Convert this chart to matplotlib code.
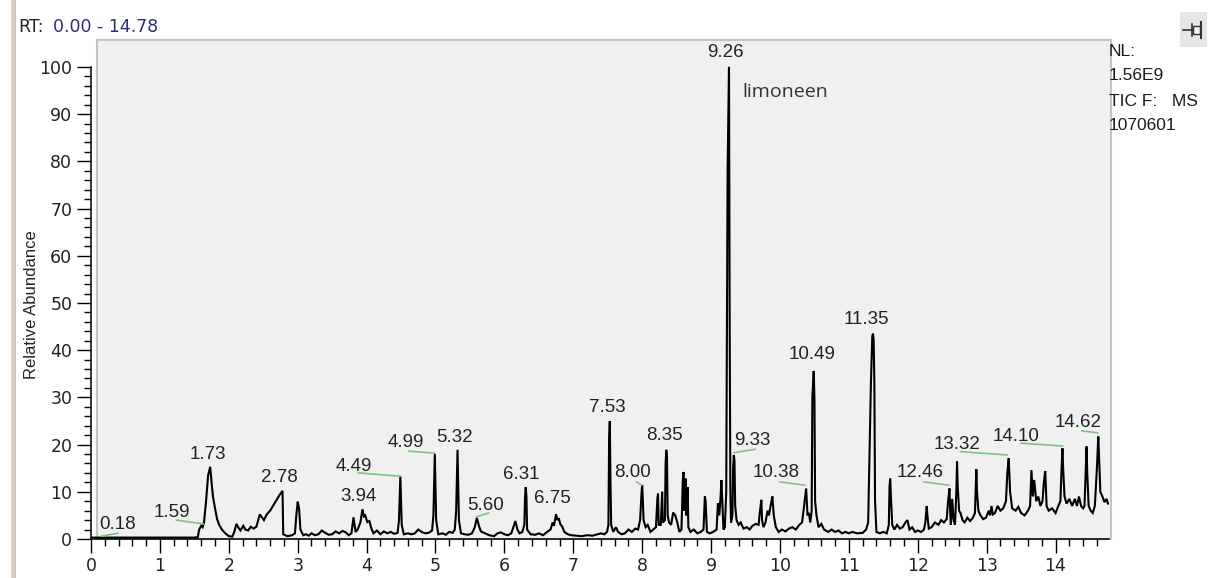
import matplotlib
matplotlib.use("Agg")
import matplotlib.pyplot as plt
from matplotlib.patches import Rectangle
from matplotlib.lines import Line2D
from matplotlib.ticker import MultipleLocator, FixedLocator

# ---- chromatogram trace: retention time (min) and relative abundance (%) ----
rt = [
    0.00, 0.50, 1.00, 1.50, 1.55, 1.57, 1.60, 1.62, 1.64, 1.67, 1.70, 1.73, 1.75, 1.77, 1.80,
    1.83, 1.86, 1.90, 1.95, 2.00, 2.05, 2.08, 2.11, 2.14, 2.17, 2.21, 2.24, 2.28, 2.32, 2.36,
    2.40, 2.45, 2.48, 2.51, 2.55, 2.60, 2.65, 2.70, 2.74, 2.78, 2.79, 2.85, 2.92, 2.96, 2.98,
    3.00, 3.02, 3.04, 3.08, 3.12, 3.16, 3.20, 3.25, 3.30, 3.35, 3.40, 3.45, 3.50, 3.55, 3.60,
    3.65, 3.70, 3.74, 3.78, 3.81, 3.84, 3.87, 3.91, 3.94, 3.96, 3.98, 4.01, 4.04, 4.07, 4.10,
    4.15, 4.20, 4.25, 4.30, 4.35, 4.40, 4.45, 4.47, 4.49, 4.51, 4.54, 4.60, 4.65, 4.70, 4.75,
    4.80, 4.85, 4.90, 4.95, 4.97, 4.99, 5.01, 5.04, 5.10, 5.15, 5.20, 5.25, 5.28, 5.30, 5.32,
    5.34, 5.37, 5.42, 5.48, 5.53, 5.57, 5.60, 5.63, 5.66, 5.72, 5.78, 5.85, 5.90, 5.95, 6.00,
    6.05, 6.10, 6.13, 6.16, 6.19, 6.22, 6.26, 6.29, 6.30, 6.31, 6.32, 6.33, 6.38, 6.45, 6.50,
    6.56, 6.62, 6.67, 6.70, 6.72, 6.74, 6.75, 6.77, 6.79, 6.81, 6.84, 6.87, 6.92, 6.97, 7.05,
    7.12, 7.20, 7.28, 7.35, 7.40, 7.45, 7.49, 7.51, 7.52, 7.53, 7.54, 7.55, 7.58, 7.62, 7.65,
    7.70, 7.75, 7.80, 7.85, 7.90, 7.94, 7.97, 7.99, 8.00, 8.01, 8.02, 8.05, 8.08, 8.12, 8.16,
    8.20, 8.22, 8.23, 8.24, 8.27, 8.29, 8.30, 8.33, 8.34, 8.35, 8.36, 8.37, 8.39, 8.42, 8.45,
    8.48, 8.51, 8.54, 8.57, 8.59, 8.60, 8.61, 8.63, 8.64, 8.66, 8.67, 8.70, 8.75, 8.80, 8.85,
    8.89, 8.91, 8.92, 8.94, 8.98, 9.03, 9.08, 9.10, 9.12, 9.14, 9.15, 9.16, 9.18, 9.20, 9.22,
    9.24, 9.26, 9.27, 9.28, 9.29, 9.31, 9.32, 9.33, 9.34, 9.35, 9.37, 9.40, 9.43, 9.47, 9.52,
    9.56, 9.60, 9.65, 9.69, 9.71, 9.73, 9.74, 9.76, 9.79, 9.82, 9.84, 9.87, 9.89, 9.91, 9.94,
    9.98, 10.03, 10.08, 10.13, 10.18, 10.23, 10.28, 10.32, 10.35, 10.38, 10.40, 10.42, 10.44, 10.46, 10.47,
    10.49, 10.50, 10.51, 10.53, 10.56, 10.60, 10.64, 10.70, 10.75, 10.80, 10.85, 10.90, 10.95, 11.00, 11.05,
    11.12, 11.20, 11.25, 11.28, 11.31, 11.32, 11.34, 11.35, 11.36, 11.37, 11.38, 11.40, 11.45, 11.50, 11.55,
    11.58, 11.59, 11.60, 11.61, 11.63, 11.66, 11.70, 11.74, 11.78, 11.82, 11.85, 11.88, 11.92, 11.96, 12.00,
    12.05, 12.09, 12.11, 12.13, 12.14, 12.16, 12.20, 12.25, 12.30, 12.34, 12.38, 12.42, 12.44, 12.46, 12.47,
    12.48, 12.50, 12.52, 12.54, 12.56, 12.57, 12.58, 12.60, 12.62, 12.65, 12.68, 12.72, 12.76, 12.80, 12.83,
    12.85, 12.86, 12.88, 12.91, 12.95, 12.99, 13.03, 13.05, 13.07, 13.09, 13.12, 13.16, 13.20, 13.24, 13.28,
    13.30, 13.32, 13.34, 13.37, 13.42, 13.46, 13.50, 13.55, 13.60, 13.63, 13.65, 13.67, 13.69, 13.72, 13.75,
    13.78, 13.81, 13.83, 13.85, 13.87, 13.90, 13.95, 14.00, 14.04, 14.07, 14.09, 14.10, 14.11, 14.13, 14.16,
    14.20, 14.24, 14.28, 14.31, 14.34, 14.37, 14.40, 14.42, 14.44, 14.45, 14.46, 14.48, 14.51, 14.54, 14.57,
    14.60, 14.62, 14.63, 14.65, 14.68, 14.71, 14.74, 14.76, 14.78,
]
abundance = [
    0.3, 0.3, 0.3, 0.3, 0.4, 2.0, 2.8, 2.5, 3.5, 8.0, 13.5, 15.3, 12.0, 9.0, 6.5,
    4.2, 3.0, 2.0, 1.2, 0.6, 0.5, 1.5, 3.2, 2.4, 1.8, 2.8, 2.0, 1.8, 2.6, 2.2,
    2.6, 5.2, 4.6, 4.0, 5.2, 6.0, 7.2, 8.4, 9.4, 10.2, 1.0, 0.6, 0.8, 1.2, 5.0,
    7.9, 6.5, 2.0, 0.8, 1.0, 0.7, 1.2, 0.8, 1.0, 1.8, 1.3, 0.9, 1.0, 1.6, 1.2,
    1.7, 1.4, 0.8, 1.2, 4.6, 1.5, 2.0, 3.5, 6.3, 4.8, 5.0, 3.6, 3.8, 2.2, 1.2,
    1.8, 1.0, 1.6, 1.2, 1.5, 1.1, 1.3, 4.0, 13.3, 3.0, 1.0, 1.2, 1.0, 1.2, 2.0,
    1.5, 1.2, 1.3, 1.8, 5.0, 18.0, 4.0, 1.0, 1.2, 0.9, 1.5, 1.3, 2.0, 6.0, 18.9,
    4.0, 1.2, 1.0, 0.9, 1.2, 2.5, 4.5, 2.8, 1.6, 1.2, 0.8, 0.6, 1.2, 1.4, 1.0,
    0.8, 1.2, 2.5, 3.8, 2.0, 1.2, 1.5, 3.0, 9.0, 11.0, 9.0, 2.0, 1.0, 0.9, 1.2,
    0.8, 1.5, 2.0, 3.5, 2.8, 4.5, 5.2, 4.0, 4.4, 3.2, 2.6, 1.5, 1.0, 0.8, 0.7,
    0.6, 0.8, 0.7, 1.0, 1.2, 1.0, 1.5, 3.0, 21.0, 25.0, 12.0, 3.0, 1.5, 2.5, 1.5,
    1.0, 1.2, 2.0, 1.5, 2.2, 2.0, 4.0, 9.5, 11.4, 8.0, 4.0, 2.5, 3.0, 1.5, 2.0,
    2.5, 8.5, 9.6, 3.0, 3.0, 10.0, 3.5, 4.0, 16.0, 18.9, 17.5, 5.0, 3.5, 3.0, 5.6,
    5.0, 3.5, 1.5, 2.0, 12.5, 14.2, 6.0, 12.8, 5.0, 11.0, 2.5, 1.5, 2.0, 1.2, 1.5,
    2.0, 9.0, 8.0, 1.5, 1.2, 1.5, 2.0, 7.6, 5.0, 9.5, 12.5, 9.0, 2.0, 2.5, 10.0,
    78.0, 100.0, 46.0, 10.0, 3.5, 5.0, 15.0, 17.8, 16.5, 7.0, 4.0, 3.0, 3.5, 2.2, 2.5,
    2.0, 2.8, 3.2, 3.0, 6.0, 8.3, 4.0, 2.5, 3.5, 6.0, 5.0, 7.5, 9.0, 5.0, 2.5,
    1.5, 2.0, 1.6, 2.2, 2.5, 2.0, 3.0, 3.5, 7.0, 10.7, 5.0, 5.5, 3.5, 6.0, 30.0,
    35.6, 30.0, 8.0, 5.0, 2.5, 3.2, 2.0, 1.5, 2.0, 1.5, 1.8, 1.2, 1.5, 1.2, 1.5,
    1.2, 1.3, 2.0, 3.5, 25.0, 33.0, 43.0, 43.5, 42.0, 33.0, 8.0, 1.5, 1.2, 1.5, 1.2,
    3.0, 11.0, 12.8, 9.0, 3.0, 2.0, 3.0, 2.2, 2.5, 3.5, 4.0, 2.0, 2.5, 1.5, 1.8,
    1.5, 2.0, 3.5, 7.0, 5.0, 2.2, 2.5, 3.5, 3.0, 4.0, 3.5, 4.2, 8.0, 10.7, 6.0,
    3.0, 8.5, 4.0, 3.0, 10.0, 16.4, 11.0, 6.0, 5.5, 4.0, 3.5, 4.5, 3.8, 4.5, 5.5,
    14.8, 10.0, 6.0, 5.0, 4.2, 4.5, 6.0, 5.0, 7.0, 5.2, 5.5, 7.0, 6.0, 6.5, 8.0,
    14.0, 17.1, 10.0, 6.5, 6.0, 6.8, 5.5, 5.0, 6.0, 7.0, 14.6, 9.0, 12.5, 8.0, 9.0,
    7.0, 8.0, 12.0, 14.4, 7.0, 6.0, 6.5, 5.5, 7.0, 8.0, 16.0, 19.2, 15.0, 9.0, 7.5,
    8.5, 7.0, 8.5, 7.0, 9.0, 7.0, 6.5, 7.0, 15.0, 19.6, 14.0, 7.0, 6.0, 5.5, 7.0,
    15.0, 21.7, 18.0, 10.0, 9.0, 7.8, 8.5, 7.5, 7.5,
]

# ---- peak annotations: label text, label centre (rt, abundance) ----
peak_labels = ["0.18", "1.59", "1.73", "2.78", "3.94", "4.49", "4.99", "5.32", "5.60",
               "6.31", "6.75", "7.53", "8.00", "8.35", "9.26", "9.33", "10.38", "10.49",
               "11.35", "12.46", "13.32", "14.10", "14.62"]
label_rt = [0.38, 1.17, 1.70, 2.73, 3.89, 3.82, 4.57, 5.27, 5.73,
            6.25, 6.70, 7.50, 7.86, 8.32, 9.21, 9.60, 9.94, 10.46,
            11.26, 12.03, 12.57, 13.43, 14.33]
label_ab = [3.0, 5.6, 18.0, 13.0, 9.1, 15.3, 20.5, 21.5, 7.2,
            13.7, 8.5, 27.9, 14.1, 22.0, 103.0, 20.8, 14.0, 39.0,
            46.4, 14.1, 20.1, 21.8, 24.6]

# green leader lines joining labels to their peaks: (rt0, ab0) -> (rt1, ab1)
leader_rt0 = [0.15, 1.24, 3.88, 4.61, 5.60, 7.92, 9.33, 10.00, 12.09, 12.62, 13.50, 14.38]
leader_ab0 = [0.6, 4.0, 14.0, 18.6, 4.7, 12.1, 18.3, 12.1, 12.1, 18.5, 20.3, 22.9]
leader_rt1 = [0.39, 1.63, 4.49, 4.99, 5.77, 7.99, 9.64, 10.36, 12.45, 13.30, 14.10, 14.61]
leader_ab1 = [1.2, 3.2, 13.3, 18.2, 5.5, 11.4, 19.0, 11.4, 11.4, 17.8, 19.7, 22.5]

compound_name = "limoneen"
compound_pos = (9.46, 94.6)

x_ticks = list(range(0, 15))
y_ticks = list(range(0, 101, 10))
y_minor_ticks = list(range(0, 101, 2))

W, H = 1208, 578
fig = plt.figure(figsize=(W / 100, H / 100), dpi=100)
fig.patch.set_facecolor("white")

x0_px, x1_px, y0_px, ytop_px = 91, 1109.3, 539, 40
ax = fig.add_axes([x0_px / W, (H - y0_px) / H,
                   (x1_px - x0_px) / W, (y0_px - ytop_px) / H])
ax.set_xlim(0, 14.78)
ax.set_ylim(0, 105.7)
ax.patch.set_visible(False)

# plot window background
span = x1_px - x0_px
box = Rectangle((6 / span, 0), 1 - 4 / span, 1,
                transform=ax.transAxes, facecolor="#f0f0f0", edgecolor="#c4c4c4",
                linewidth=1.5, zorder=0, clip_on=False)
ax.add_patch(box)

for s in ("top", "right"):
    ax.spines[s].set_visible(False)
ax.spines["left"].set_bounds(0, 100)
ax.spines["left"].set_linewidth(1.1)
ax.spines["bottom"].set_linewidth(1.1)
ax.spines["left"].set_zorder(3)
ax.spines["bottom"].set_zorder(3)

ax.set_xticks(x_ticks)
ax.set_yticks(y_ticks)
ax.xaxis.set_minor_locator(MultipleLocator(0.2))
ax.yaxis.set_minor_locator(FixedLocator(y_minor_ticks))
ax.tick_params(which="major", length=10, width=1.0, direction="out", color="black",
               labelsize=12.5, labelcolor="#222222")
ax.tick_params(which="minor", length=5, width=1.0, direction="out", color="black")
ax.tick_params(axis="y", which="major", pad=3.5)
ax.tick_params(axis="x", which="major", pad=3)

ax.plot(rt, abundance, color="black", linewidth=1.5, zorder=2, solid_joinstyle="miter")

for a, b, c, d in zip(leader_rt0, leader_ab0, leader_rt1, leader_ab1):
    ax.plot([a, c], [b, d], color="#7cc47c", linewidth=1.2, zorder=2)

for txt, xr, yr in zip(peak_labels, label_rt, label_ab):
    ax.text(xr, yr, txt, ha="center", va="center", fontsize=13.5,
            family="Liberation Sans", color="#222222", zorder=4)

ax.text(compound_pos[0], compound_pos[1], compound_name, ha="left", va="center",
        fontsize=14, family="Open Sans", color="#333333")

fig.text(32 / W, 1 - 305 / H, "Relative Abundance", rotation=90, ha="center", va="center",
         fontsize=12, family="Liberation Sans", color="#222222")

# header
fig.text(18 / W, 1 - 27 / H, "RT:", ha="left", va="center", fontsize=12.5, color="#222222")
fig.text(53 / W, 1 - 27 / H, "0.00 - 14.78", ha="left", va="center", fontsize=12.5,
         color="#2e2e78")

# side information
side_lines = ["NL:", "1.56E9", "TIC F:   MS", "1070601"]
side_y = [51, 76, 101, 126]
for s, yy in zip(side_lines, side_y):
    fig.text(1109 / W, 1 - yy / H, s, ha="left", va="center", fontsize=12.5,
             family="Liberation Sans", color="#1a1a1a")

# window frame line on the far left
fig.add_artist(Line2D([13 / W, 13 / W], [0, 1], color="#d6cebc", linewidth=2.6))
fig.add_artist(Line2D([15 / W, 15 / W], [0, 1], color="#b8b2a6", linewidth=0.6))

# pin button
def px(xp, yp):
    return xp / W, 1 - yp / H

fig.add_artist(Rectangle(px(1180, 47), 27 / W, 35 / H, facecolor="#e6e6e6",
                         edgecolor="none"))
fig.add_artist(Line2D([1183 / W, 1193 / W], [1 - 30 / H, 1 - 30 / H], color="#333333",
                      linewidth=1.2))
fig.add_artist(Line2D([1192 / W, 1192 / W], [1 - 24 / H, 1 - 36 / H], color="#333333",
                      linewidth=1.2))
fig.add_artist(Rectangle(px(1193, 34), 7 / W, 8 / H, facecolor="#f4f4f4",
                         edgecolor="#333333", linewidth=1.0))
fig.add_artist(Line2D([1201 / W, 1201 / W], [1 - 22 / H, 1 - 38 / H], color="#333333",
                      linewidth=1.5))

fig.savefig("out.png", dpi=100, facecolor="white")
